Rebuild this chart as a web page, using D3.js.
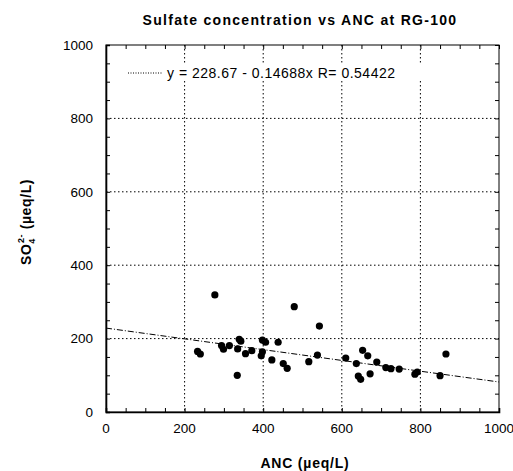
<!DOCTYPE html>
<html>
<head>
<meta charset="utf-8">
<script src="https://cdn.jsdelivr.net/npm/d3@7"></script>
<style>
  body { margin: 0; background: #fff; }
  svg { font-family: "Liberation Sans", Arial, sans-serif; }
</style>
</head>
<body>
<div id="chart"></div>
<script>
// ANC (ueq/L) and sulfate (ueq/L)
const ancValues = [277, 479, 543, 233, 240, 294, 299, 314, 339, 343, 335, 355, 371, 334,
  398, 406, 438, 398, 395, 422, 451, 461, 516, 538, 610, 637, 653, 666, 642, 648,
  672, 689, 712, 725, 746, 786, 792, 850, 865];
const so4Values = [319, 287, 234, 165, 158, 181, 171, 181, 198, 193, 172, 159, 167, 100,
  196, 190, 190, 164, 153, 142, 132, 119, 137, 155, 147, 132, 168, 153, 98, 89,
  104, 136, 121, 118, 117, 103, 109, 99, 158];
const fitIntercept = 228.67;
const fitSlope = -0.14688;
const xTicks = [0, 200, 400, 600, 800, 1000];
const yTicks = [0, 200, 400, 600, 800, 1000];
const gridTicks = [200, 400, 600, 800];

const points = ancValues.map((a, i) => ({ anc: a, so4: so4Values[i] }));

const margin = { top: 45, right: 14, bottom: 59, left: 106 },
  width = 513 - margin.left - margin.right,
  height = 471 - margin.top - margin.bottom;

const root = d3.select("#chart").append("svg")
  .attr("width", 513)
  .attr("height", 471);

const svg = root.append("g")
  .attr("transform", `translate(${margin.left},${margin.top})`);

const x = d3.scaleLinear().domain([0, 1000]).range([0, width]);
const y = d3.scaleLinear().domain([0, 1000]).range([height, 0]);

// dotted grid
svg.selectAll(".vgrid")
  .data(gridTicks)
  .join("line")
  .attr("x1", d => x(d)).attr("x2", d => x(d))
  .attr("y1", 0).attr("y2", height)
  .attr("stroke", "#000")
  .attr("stroke-width", 1)
  .attr("stroke-dasharray", "1.5,2.5");

svg.selectAll(".hgrid")
  .data(gridTicks)
  .join("line")
  .attr("x1", 0).attr("x2", width)
  .attr("y1", d => y(d)).attr("y2", d => y(d))
  .attr("stroke", "#000")
  .attr("stroke-width", 1)
  .attr("stroke-dasharray", "1.5,2.5");

// frame
svg.append("rect")
  .attr("width", width)
  .attr("height", height)
  .attr("fill", "none")
  .attr("stroke", "#000")
  .attr("stroke-width", 1);

// axes with minor ticks pointing inward
const minor = d3.range(0, 1001, 50);
svg.append("g")
  .attr("transform", `translate(0,${height})`)
  .call(d3.axisBottom(x).tickValues(minor).tickSize(-4).tickFormat(""))
  .call(g => g.select(".domain").attr("stroke-width", 1.6));
svg.append("g")
  .call(d3.axisTop(x).tickValues(minor).tickSize(-4).tickFormat(""))
  .call(g => g.select(".domain").remove());
svg.append("g")
  .call(d3.axisLeft(y).tickValues(minor).tickSize(-4).tickFormat(""))
  .call(g => g.select(".domain").attr("stroke-width", 1.6));
svg.append("g")
  .attr("transform", `translate(${width},0)`)
  .call(d3.axisRight(y).tickValues(minor).tickSize(-4).tickFormat(""))
  .call(g => g.select(".domain").remove());

// tick labels
svg.selectAll(".xlab")
  .data(xTicks)
  .join("text")
  .attr("x", d => x(d))
  .attr("y", height + 21)
  .attr("text-anchor", "middle")
  .style("font-size", "13.5px")
  .text(d => d);

svg.selectAll(".ylab")
  .data(yTicks)
  .join("text")
  .attr("x", -13)
  .attr("y", d => y(d))
  .attr("dy", "0.35em")
  .attr("text-anchor", "end")
  .style("font-size", "13.5px")
  .text(d => d);

// regression line
svg.append("line")
  .attr("x1", x(0)).attr("y1", y(fitIntercept))
  .attr("x2", x(1000)).attr("y2", y(fitIntercept + fitSlope * 1000))
  .attr("stroke", "#000")
  .attr("stroke-width", 1)
  .attr("stroke-dasharray", "6,2,1,2");

// points
svg.selectAll("circle")
  .data(points)
  .join("circle")
  .attr("cx", d => x(d.anc))
  .attr("cy", d => y(d.so4))
  .attr("r", 3.6)
  .attr("fill", "#000");

// legend
svg.append("rect")
  .attr("x", 58).attr("y", 20)
  .attr("width", 262).attr("height", 16)
  .attr("fill", "#fff");
svg.append("line")
  .attr("x1", 22).attr("x2", 57)
  .attr("y1", 28).attr("y2", 28)
  .attr("stroke", "#000")
  .attr("stroke-dasharray", "1,1.5");
svg.append("text")
  .attr("x", 61)
  .attr("y", 28)
  .attr("dy", "0.35em")
  .style("font-size", "14px")
  .style("letter-spacing", "0.5px")
  .text("y = 228.67 - 0.14688x R= 0.54422");

// title
root.append("text")
  .attr("x", 300)
  .attr("y", 25)
  .attr("text-anchor", "middle")
  .style("font-size", "14px")
  .style("font-weight", "bold")
  .style("letter-spacing", "1.3px")
  .text("Sulfate concentration vs ANC at RG-100");

// x axis title
root.append("text")
  .attr("x", 305)
  .attr("y", 468)
  .attr("text-anchor", "middle")
  .style("font-size", "14px")
  .style("font-weight", "bold")
  .style("letter-spacing", "0.8px")
  .text("ANC  (\u00b5eq/L)");

// y axis title
const yt = root.append("text")
  .attr("transform", `translate(31,222) rotate(-90)`)
  .attr("text-anchor", "middle")
  .style("font-size", "14px")
  .style("font-weight", "bold")
  .style("letter-spacing", "0.6px");
yt.append("tspan").text("SO");
yt.append("tspan").attr("dy", 4).style("font-size", "9px").text("4");
yt.append("tspan").attr("dy", -11).attr("dx", -5).style("font-size", "9px").text("2-");
yt.append("tspan").attr("dy", 7).text("  (\u00b5eq/L)");
</script>
</body>
</html>
